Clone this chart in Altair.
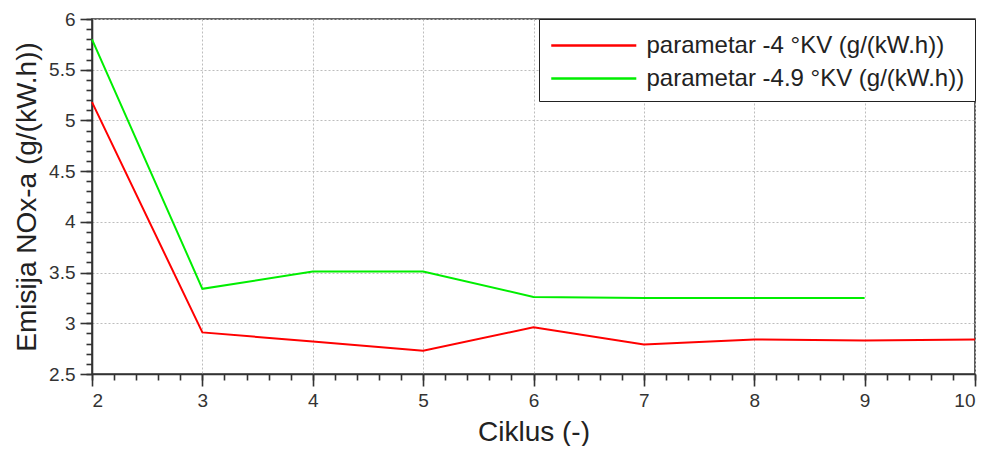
import altair as alt
import pandas as pd

ciklus_red = [2, 3, 4, 5, 6, 7, 8, 9, 10]
nox_red = [5.18, 2.91, 2.82, 2.73, 2.96, 2.79, 2.84, 2.83, 2.84]
ciklus_green = [2, 3, 4, 5, 6, 7, 8, 9]
nox_green = [5.80, 3.34, 3.51, 3.51, 3.26, 3.25, 3.25, 3.25]

name_red = "parametar -4 °KV (g/(kW.h))"
name_green = "parametar -4.9 °KV (g/(kW.h))"

x_major = [2, 3, 4, 5, 6, 7, 8, 9, 10]
y_major = [2.5, 3, 3.5, 4, 4.5, 5, 5.5, 6]
x_minor = [round(2 + 0.2 * i, 1) for i in range(41)]
y_minor = [round(2.5 + 0.1 * i, 1) for i in range(36)]

df = pd.concat([
    pd.DataFrame({"ciklus": ciklus_red, "nox": nox_red, "serija": name_red}),
    pd.DataFrame({"ciklus": ciklus_green, "nox": nox_green, "serija": name_green}),
])

FONT = "Liberation Sans"
xscale = alt.Scale(domain=[2, 10], nice=False, zero=False)
yscale = alt.Scale(domain=[2.5, 6], nice=False, zero=False)

main = alt.Chart(df).mark_line(strokeWidth=2).encode(
    x=alt.X("ciklus:Q", scale=xscale,
            axis=alt.Axis(values=x_major, format=".2~f", title="Ciklus (-)", orient="bottom",
                          tickSize=12, labelPadding=5, titlePadding=8,
                          grid=True, gridColor="#bdbdbd", gridDash=[2, 2],
                          domainColor="#333", tickColor="#333")),
    y=alt.Y("nox:Q", scale=yscale,
            axis=alt.Axis(values=y_major, format=".2~f", title="Emisija NOx-a (g/(kW.h))", orient="left",
                          tickSize=12, labelPadding=5, titlePadding=7,
                          grid=True, gridColor="#bdbdbd", gridDash=[2, 2],
                          domainColor="#333", tickColor="#333")),
    color=alt.Color("serija:N",
                    scale=alt.Scale(domain=[name_red, name_green], range=["#ff0000", "#00ee00"]),
                    legend=alt.Legend(title=None, orient="top-right", offset=0,
                                      symbolType="M-0.95,0L4.72,0", symbolSize=900,
                                      symbolStrokeWidth=2.5, labelOffset=64.5,
                                      labelFontSize=24, labelFont=FONT, labelColor="#222",
                                      labelLimit=500,
                                      strokeColor="#222", fillColor="white", padding=10,
                                      rowPadding=4)),
    detail="serija:N",
)

minor = alt.Chart(df).mark_line(strokeOpacity=0).encode(
    x=alt.X("ciklus:Q", scale=xscale,
            axis=alt.Axis(values=x_minor, title=None, labels=False, orient="bottom",
                          tickSize=6, domain=False, grid=False, tickColor="#333")),
    y=alt.Y("nox:Q", scale=yscale,
            axis=alt.Axis(values=y_minor, title=None, labels=False, orient="left",
                          tickSize=6, domain=False, grid=False, tickColor="#333")),
    detail="serija:N",
)

chart = alt.layer(main, minor).resolve_axis(x="independent", y="independent").properties(
    width=883, height=355,
    autosize=alt.AutoSizeParams(type="none"),
    padding={"left": 84, "top": 11, "right": 4, "bottom": 72},
).configure_axis(
    labelFont=FONT, labelFontSize=19, labelColor="#333",
    titleFont=FONT, titleFontSize=28, titleColor="#222", titleFontWeight="normal",
    tickWidth=1.6, domainWidth=1.6,
).configure_view(stroke="#333", strokeWidth=1.6)

chart.save("out.html", embed_options={"renderer": "svg", "actions": False})
